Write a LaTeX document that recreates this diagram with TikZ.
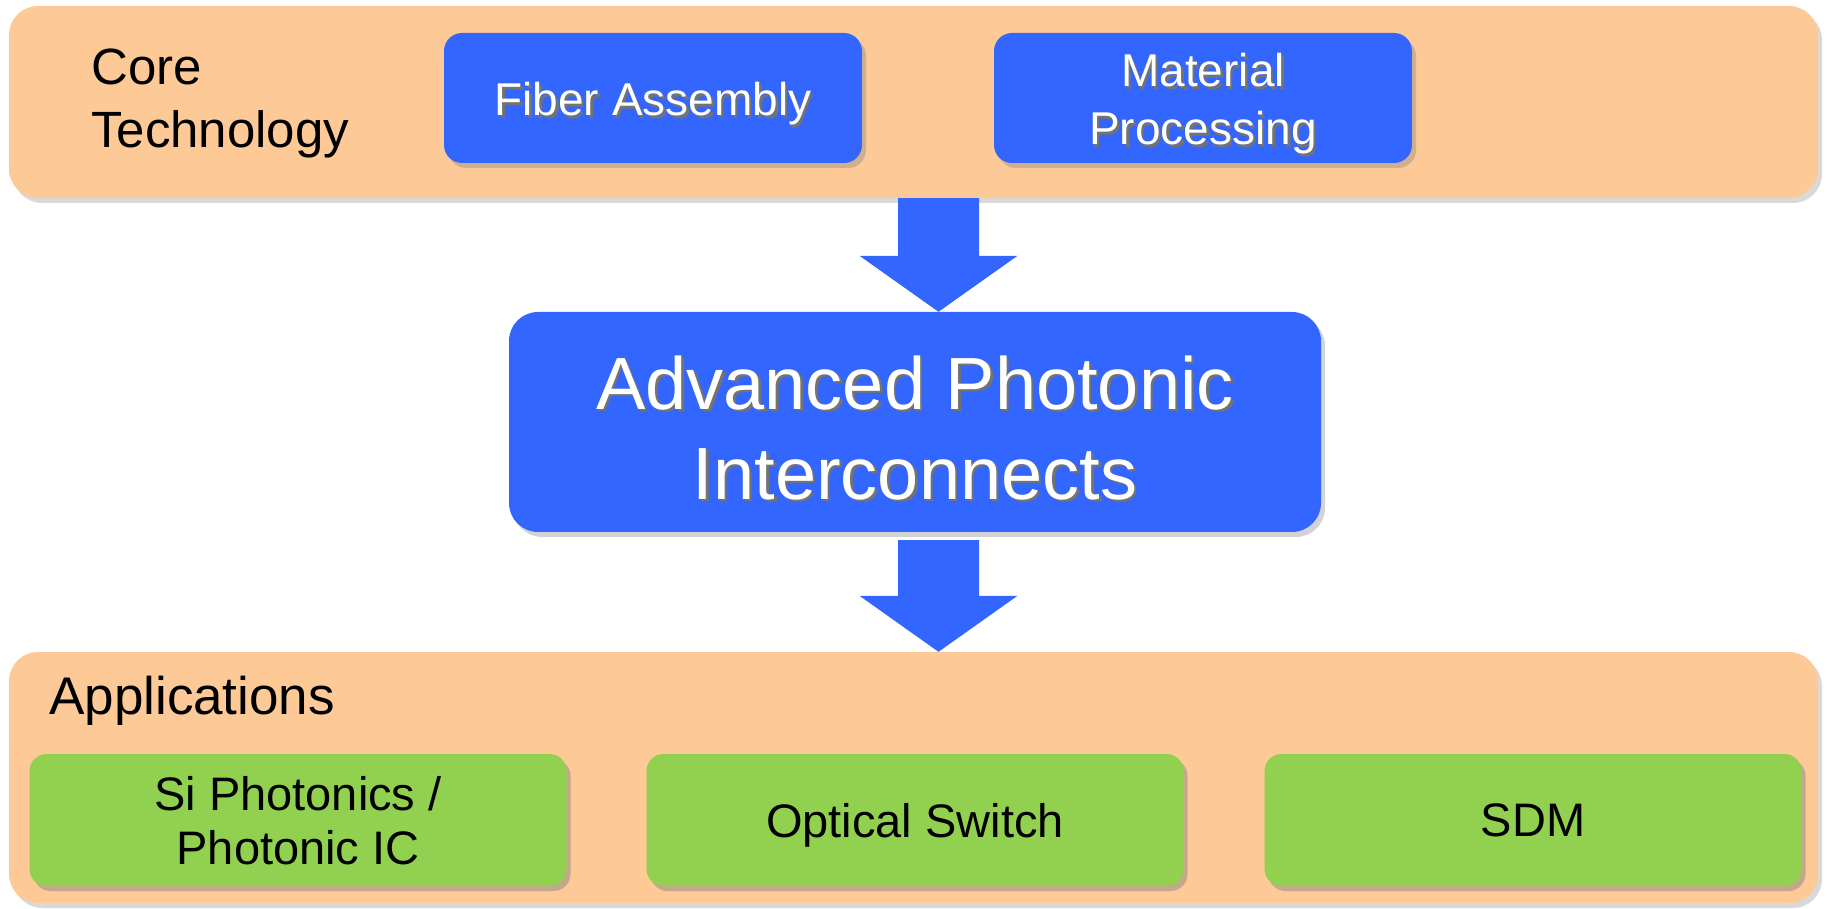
\documentclass[tikz,border=0pt]{standalone}
\usepackage{fontspec}
\setmainfont{Liberation Sans}
\usetikzlibrary{calc,shadows}
\definecolor{bandorange}{HTML}{FCC997}
\definecolor{boxblue}{HTML}{3366FF}
\definecolor{appgreen}{HTML}{92D050}
\newcommand\tshade[1]{\raisebox{-7pt}[\height][\depth]{\makebox[0pt][l]{\hspace{2.5pt}\raisebox{-2.5pt}{\textcolor{black!55}{#1}}}#1}}
\newcommand\blockarrow[2]{\fill[boxblue]($(#1)+(-40.5,0)$)--($(#1)+(40.5,0)$)--($(#2)+(40.5,56)$)--($(#2)+(79,56)$)--(#2)--($(#2)+(-79,56)$)--($(#2)+(-40.5,56)$)--cycle;}
\tikzset{
band/.style={fill=bandorange,rounded corners=29pt,minimum width=1809pt,inner sep=0,drop shadow={opacity=.3,shadow xshift=4pt,shadow yshift=-5pt}},
techbox/.style={fill=boxblue,rounded corners=18pt,minimum width=418pt,minimum height=130pt,inner sep=0,text=white,align=center,font=\fontsize{46}{58}\selectfont,drop shadow={opacity=.35,shadow xshift=4pt,shadow yshift=-5pt}},
appbox/.style={fill=appgreen,rounded corners=17pt,minimum width=537pt,minimum height=132pt,inner sep=0,text depth=0pt,align=center,font=\fontsize{47}{54}\selectfont,drop shadow={opacity=.45,shadow xshift=4pt,shadow yshift=-5pt}},
title/.style={anchor=west,align=left,inner sep=0,font=\fontsize{51}{63}\selectfont}
}
\begin{document}
\begin{tikzpicture}[x=1pt,y=1pt]
\useasboundingbox(0,0)rectangle(1827,908);
% core technology band
\node[band,minimum height=192pt](core)at(913.5,806){};
\node[title](coretxt)at(91,805){Core\\Technology};
\node[techbox](fiber)at(653,810){\tshade{Fiber Assembly}};
\node[techbox](material)at(1203,810){\tshade{Material}\\\tshade{Processing}};
% centre box
\node[techbox,minimum width=812pt,minimum height=220pt,rounded corners=29pt,font=\fontsize{74}{90}\selectfont](adv)at(915,486){\tshade{Advanced Photonic}\\\tshade{Interconnects}};
% applications band
\node[band,minimum height=251pt](apps)at(913.5,130.5){};
\node[title,font=\fontsize{53}{63}\selectfont](appstxt)at(49,207){Applications};
\node[appbox](siph)at(298,88){Si Photonics /\\Photonic IC};
\node[appbox](switch)at(915,88){Optical Switch};
\node[appbox](sdm)at(1533,88){SDM};
% block arrows
\coordinate(a1s)at([xshift=25pt]core.south);\coordinate(a1e)at(a1s|-adv.north);
\coordinate(a2s)at($(adv.south-|a1s)+(0,-8)$);\coordinate(a2e)at(a2s|-apps.north);
\blockarrow{a1s}{a1e}\blockarrow{a2s}{a2e}
\end{tikzpicture}
\end{document}
